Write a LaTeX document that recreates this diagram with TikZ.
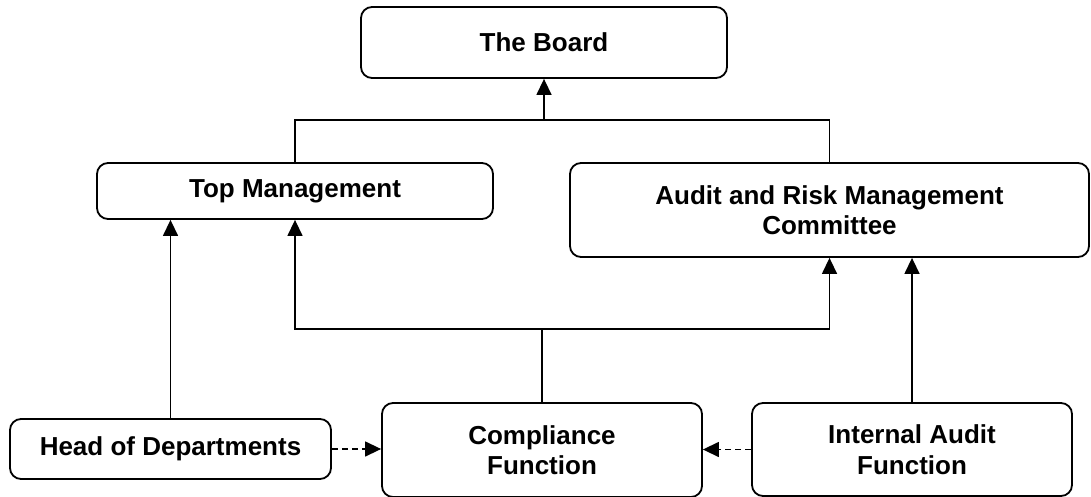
\documentclass[tikz,border=0pt]{standalone}
\usepackage{fontspec}
\setmainfont{Liberation Sans}
\usetikzlibrary{arrows.meta}
\begin{document}
\begin{tikzpicture}[x=1pt,y=-1pt,
  box/.style={draw, line width=1.8pt, rounded corners=11pt, inner sep=0pt,
    align=center, font=\fontsize{26}{30.5}\selectfont\bfseries},
  conn/.style={line width=1.4pt},
  arr/.style={conn, -{Triangle[width=15pt,length=16pt]}},
  darr/.style={arr, dash pattern=on 6pt off 4pt}]
\useasboundingbox (0,0) rectangle (1091,497);
\node[box, minimum width=366pt, minimum height=71pt] (board) at (544,42.5) {The Board};
\node[box, minimum width=396pt, minimum height=56pt] (tm) at (295,191) {Top Management};
\node[box, minimum width=519pt, minimum height=94pt] (armc) at (829.5,210) {Audit and Risk Management\\Committee};
\node[box, minimum width=321pt, minimum height=60pt] (hod) at (170.5,449) {Head of Departments};
\node[box, minimum width=320pt, minimum height=94pt] (comp) at (542,450) {Compliance\\Function};
\node[box, minimum width=320pt, minimum height=93pt] (iaf) at (912,449.5) {Internal Audit\\Function};
\coordinate (j1) at (544,120);
\coordinate (j2) at (542,329);
\draw[conn] (tm.north) |- (j1) -| (armc.north);
\draw[arr] (j1) -- (board.south);
\draw[arr] (hod.north) -- (hod.north |- tm.south);
\draw[conn] (comp.north) -- (j2);
\draw[arr] (j2) -| (tm.south);
\draw[arr] (j2) -| (armc.south);
\draw[arr] (iaf.north) -- (iaf.north |- armc.south);
\draw[darr] (hod.east) -- (comp.west |- hod.east);
\draw[darr] (iaf.west) -- (comp.east |- iaf.west);
\end{tikzpicture}
\end{document}
